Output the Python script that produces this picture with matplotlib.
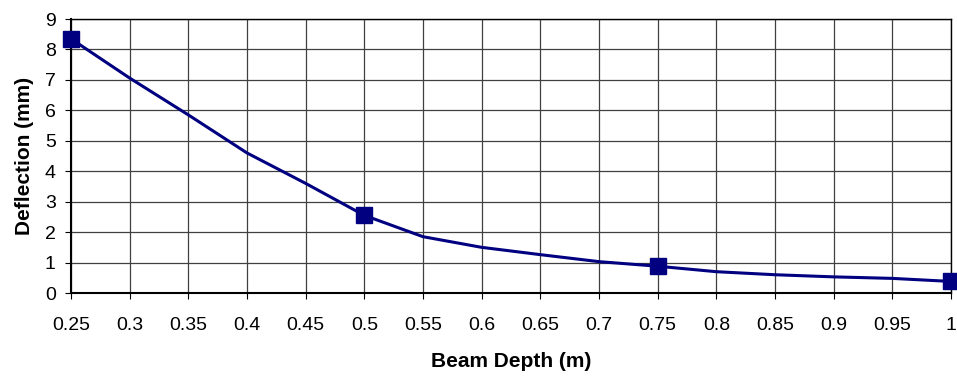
import matplotlib.pyplot as plt
import numpy as np

plt.rcParams['font.family'] = ['Liberation Sans', 'DejaVu Sans']

# beam depth (m) and deflection (mm) at the marked points
depth = [0.25, 0.5, 0.75, 1.0]
deflection = [8.35, 2.55, 0.88, 0.38]

# smoothed curve
curve_depth = [0.25, 0.3, 0.35, 0.4, 0.45, 0.5, 0.55, 0.6, 0.65, 0.7,
               0.75, 0.8, 0.85, 0.9, 0.95, 1.0]
curve_defl = [8.35, 7.06, 5.85, 4.6, 3.6, 2.55, 1.85, 1.5, 1.26, 1.03,
              0.88, 0.7, 0.6, 0.53, 0.48, 0.38]

xticks = [0.25, 0.3, 0.35, 0.4, 0.45, 0.5, 0.55, 0.6, 0.65, 0.7,
          0.75, 0.8, 0.85, 0.9, 0.95, 1.0]
xlabels = ["0.25", "0.3", "0.35", "0.4", "0.45", "0.5", "0.55", "0.6", "0.65",
           "0.7", "0.75", "0.8", "0.85", "0.9", "0.95", "1"]

fig = plt.figure(figsize=(9.57, 3.77), dpi=100)
ax = fig.add_axes([0.0742, 0.2228, 0.9195, 0.7268])

ax.plot(curve_depth, curve_defl, color='#000080', lw=2.2, clip_on=False, zorder=3)
ax.plot(depth, deflection, 's', color='#000080', markersize=11.5, clip_on=False, zorder=4)

ax.set_xlim(0.25, 1.0)
ax.set_ylim(0, 9)
ax.set_xticks(xticks)
ax.set_xticklabels(xlabels, fontsize=14)
ax.set_yticks(range(10))
ax.tick_params(axis='y', labelsize=14, length=4, pad=7)
ax.tick_params(axis='x', length=4, pad=13)
ax.grid(True, color='#404040', lw=0.9)
ax.set_axisbelow(True)
for s in ax.spines.values():
    s.set_color('black')
    s.set_linewidth(1.0)
ax.spines['bottom'].set_linewidth(1.5)
ax.spines['left'].set_linewidth(1.5)

ax.set_xlabel("Beam Depth (m)", fontsize=15, fontweight='bold')
ax.set_ylabel("Deflection (mm)", fontsize=15, fontweight='bold')
ax.xaxis.set_label_coords(0.5, -0.215)
ax.yaxis.set_label_coords(-0.042, 0.5)

fig.savefig("out.png", dpi=100)
